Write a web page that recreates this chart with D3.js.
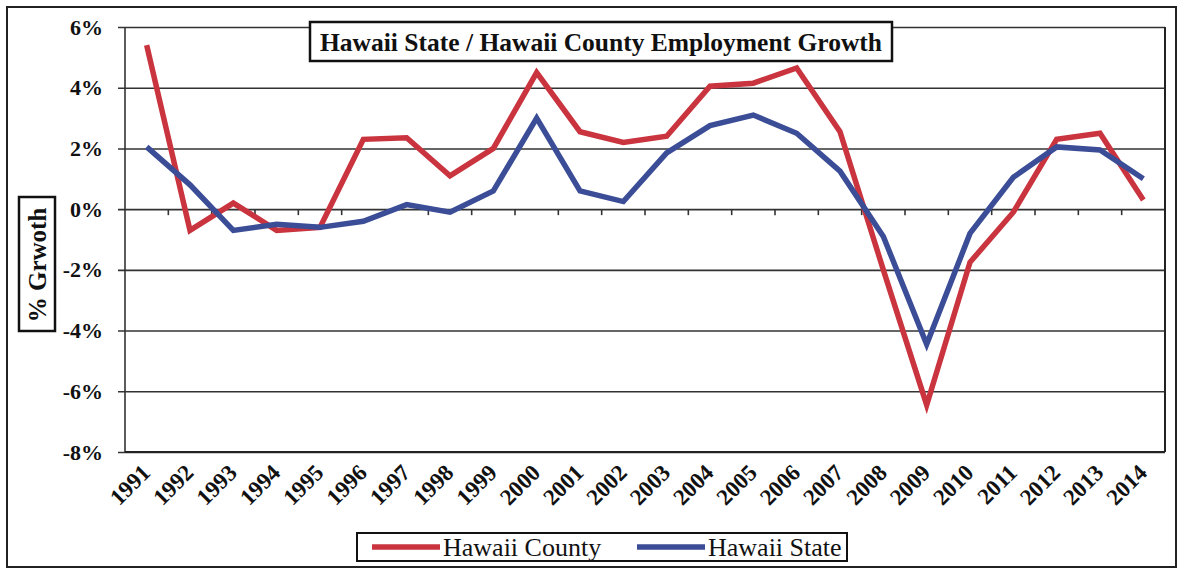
<!DOCTYPE html>
<html>
<head>
<meta charset="utf-8">
<script src="https://cdn.jsdelivr.net/npm/d3@7"></script>
<style>
  html, body { margin: 0; padding: 0; background: #fff; }
  svg { display: block; }
  text { font-family: "Liberation Serif", "Times New Roman", serif; fill: #111; }
</style>
</head>
<body>
<svg id="chart" width="1184" height="572"></svg>
<script>
// Annual employment growth, percent
const years = ["1991","1992","1993","1994","1995","1996","1997","1998","1999","2000","2001","2002",
               "2003","2004","2005","2006","2007","2008","2009","2010","2011","2012","2013","2014"];
const hawaiiCounty = [5.4, -0.7, 0.2, -0.7, -0.6, 2.3, 2.35, 1.1, 2.0, 4.5, 2.55, 2.2,
                      2.4, 4.05, 4.15, 4.65, 2.55, -2.0, -6.45, -1.75, -0.1, 2.3, 2.5, 0.3];
const hawaiiState  = [2.05, 0.8, -0.7, -0.5, -0.6, -0.4, 0.15, -0.1, 0.6, 3.0, 0.6, 0.25,
                      1.85, 2.75, 3.1, 2.5, 1.25, -0.9, -4.45, -0.8, 1.05, 2.05, 1.95, 1.0];
const yTicks = [-8, -6, -4, -2, 0, 2, 4, 6];

const series = [
  { name: "Hawaii County", values: hawaiiCounty, color: "#c9343e" },
  { name: "Hawaii State",  values: hawaiiState,  color: "#3b4d96" }
];

const svg = d3.select("#chart");
const plot = { left: 125, right: 1165, top: 27, bottom: 452 };

const x = d3.scalePoint().domain(years).range([plot.left, plot.right]).padding(0.5);
const xBand = d3.scaleBand().domain(years).range([plot.left, plot.right]);
const y = d3.scaleLinear().domain([-8, 6]).range([plot.bottom, plot.top]);

// outer frame
svg.append("rect")
  .attr("x", 7).attr("y", 7).attr("width", 1169).attr("height", 560)
  .attr("fill", "none").attr("stroke", "#222").attr("stroke-width", 2);

// horizontal gridlines with short ticks to the left
const yAxis = d3.axisLeft(y).tickValues(yTicks)
  .tickSize(-(plot.right - plot.left) - 7)
  .tickFormat(d => d + "%");
const gy = svg.append("g")
  .attr("transform", `translate(${plot.left - 7},0)`)
  .call(yAxis);
gy.select(".domain").remove();
gy.selectAll(".tick line").attr("stroke", "#333").attr("stroke-width", 1.6);
gy.selectAll(".tick text")
  .attr("x", -15)
  .style("font-size", "22px").style("font-weight", "bold")
  .style("font-family", "'Liberation Serif', serif").attr("fill", "#111");

// plot frame: left, right and bottom edges
svg.append("line").attr("x1", plot.left).attr("x2", plot.left)
  .attr("y1", plot.top).attr("y2", plot.bottom).attr("stroke", "#333").attr("stroke-width", 1.6);
svg.append("line").attr("x1", plot.right).attr("x2", plot.right)
  .attr("y1", plot.top).attr("y2", plot.bottom).attr("stroke", "#222").attr("stroke-width", 2);
svg.append("line").attr("x1", plot.left).attr("x2", plot.right)
  .attr("y1", plot.bottom).attr("y2", plot.bottom).attr("stroke", "#222").attr("stroke-width", 2.2);

// category axis crossing at zero: tick marks on band boundaries
const boundaries = years.map(d => xBand(d)).concat([plot.right]);
svg.append("g").selectAll("line").data(boundaries.slice(1, -1)).join("line")
  .attr("x1", d => d).attr("x2", d => d)
  .attr("y1", y(0)).attr("y2", y(0) + 6)
  .attr("stroke", "#333").attr("stroke-width", 1.6);

// year labels, rotated
svg.append("g").selectAll("text").data(years).join("text")
  .attr("transform", d => `translate(${x(d) + 5},${plot.bottom + 22}) rotate(-45)`)
  .attr("text-anchor", "end")
  .style("font-size", "23px").style("font-weight", "bold")
  .text(d => d);

// series lines
const line = d3.line().x((d, i) => x(years[i])).y(d => y(d));
svg.append("g").selectAll("path").data(series).join("path")
  .attr("d", s => line(s.values))
  .attr("fill", "none")
  .attr("stroke", s => s.color)
  .attr("stroke-width", 5.5)
  .attr("stroke-linejoin", "miter")
  .attr("stroke-linecap", "butt");

// title box
const title = svg.append("g");
title.append("rect")
  .attr("x", 310).attr("y", 22).attr("width", 582).attr("height", 39)
  .attr("fill", "#fff").attr("stroke", "#111").attr("stroke-width", 2.5);
title.append("text")
  .attr("x", 601).attr("y", 51)
  .attr("text-anchor", "middle")
  .style("font-size", "25.5px").style("font-weight", "bold")
  .text("Hawaii State / Hawaii County Employment Growth");

// y-axis title box
const yt = svg.append("g");
yt.append("rect")
  .attr("x", 19).attr("y", 197).attr("width", 36).attr("height", 134)
  .attr("fill", "#fff").attr("stroke", "#111").attr("stroke-width", 2.5);
yt.append("text")
  .attr("transform", "translate(46,265) rotate(-90)")
  .attr("text-anchor", "middle")
  .style("font-size", "25px").style("font-weight", "bold")
  .text("% Grwoth");

// legend
const legend = svg.append("g");
legend.append("rect")
  .attr("x", 357).attr("y", 533).attr("width", 490).attr("height", 28)
  .attr("fill", "#fff").attr("stroke", "#111").attr("stroke-width", 2);
const legendX = [372, 637];
const items = legend.selectAll("g.item").data(series).join("g")
  .attr("class", "item")
  .attr("transform", (d, i) => `translate(${legendX[i]},547)`);
items.append("line")
  .attr("x1", 0).attr("x2", 68).attr("y1", 0).attr("y2", 0)
  .attr("stroke", d => d.color).attr("stroke-width", 5.5);
items.append("text")
  .attr("x", 71).attr("y", 9)
  .style("font-size", "26px")
  .text(d => d.name);
</script>
</body>
</html>
